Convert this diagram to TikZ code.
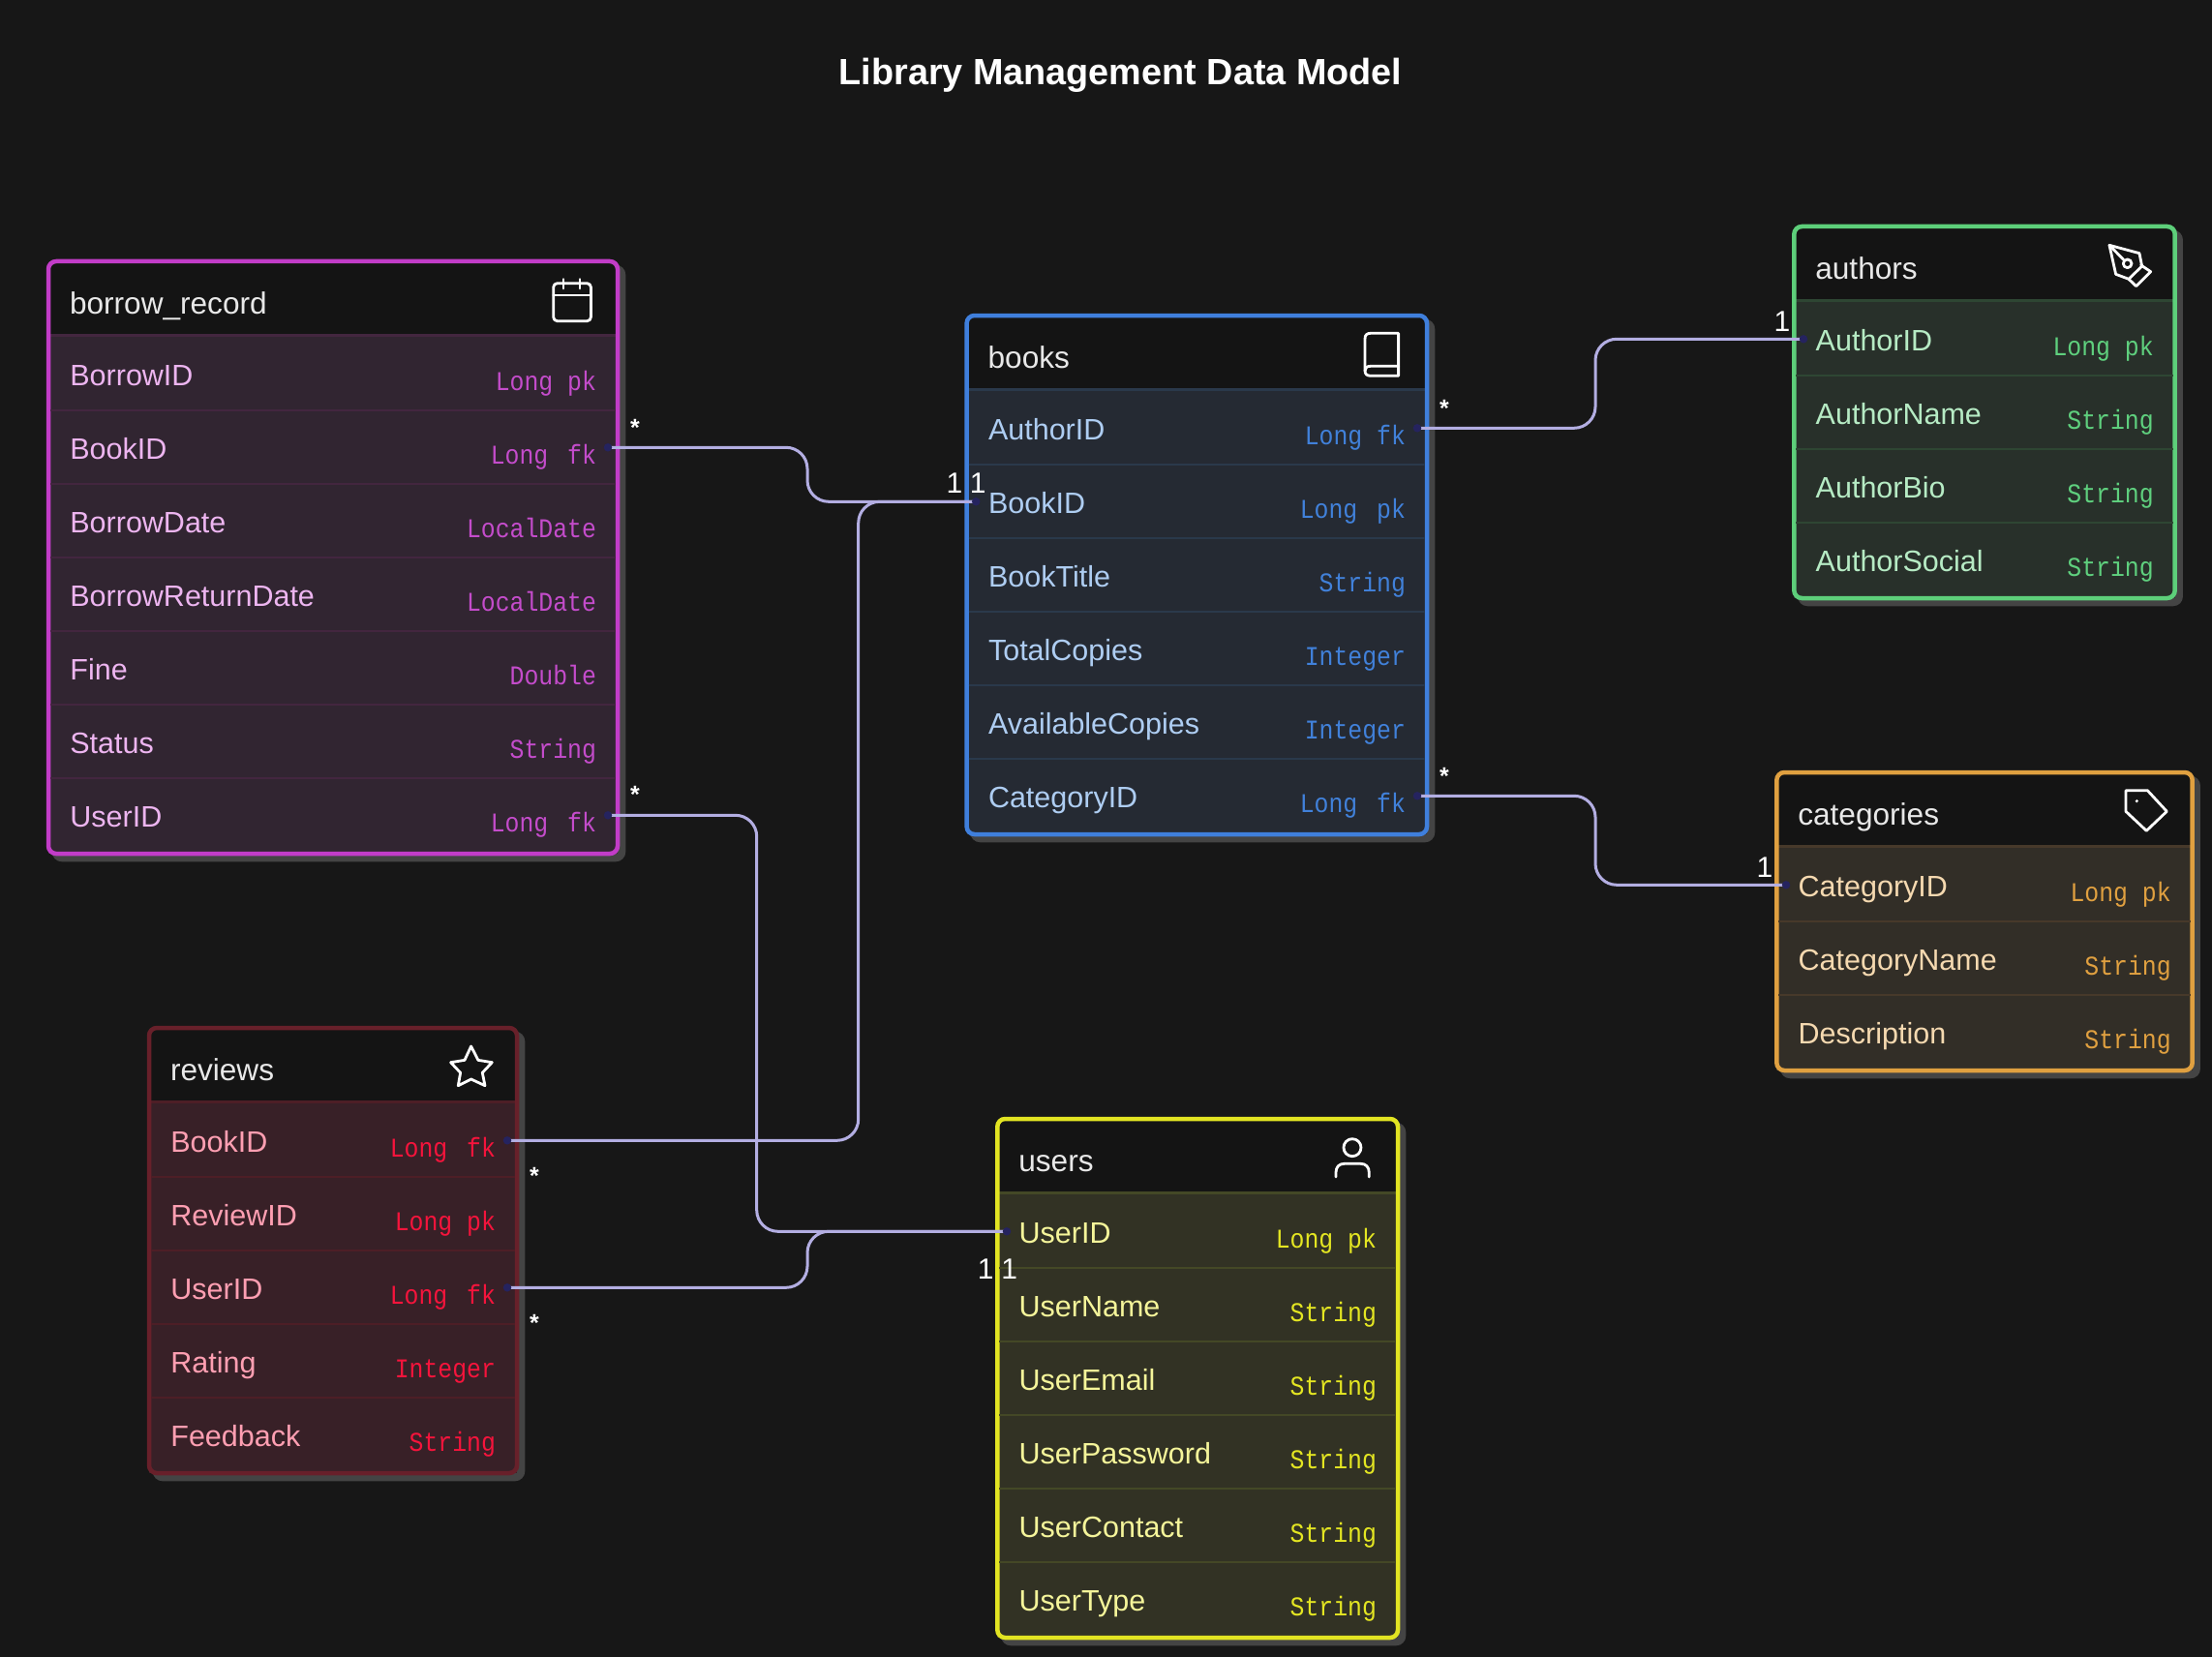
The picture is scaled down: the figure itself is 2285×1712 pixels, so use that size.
\documentclass[tikz,border=0pt]{standalone}
\usepackage{fontspec}
\setmainfont{Liberation Sans}
\newfontfamily\typefont[FakeStretch=0.886]{Liberation Mono}
\usetikzlibrary{calc}
\definecolor{pageBg}{HTML}{171717}
\definecolor{headBg}{HTML}{141414}
\definecolor{shadowC}{HTML}{444444}
\definecolor{connC}{HTML}{B3AEE2}
\definecolor{dotC}{HTML}{25235F}
\definecolor{titleC}{HTML}{E8E8E8}
\definecolor{bwS}{HTML}{C23CC8}\definecolor{bwF}{HTML}{312531}\definecolor{bwL}{HTML}{43263F}\definecolor{bwN}{HTML}{EDB5F0}\definecolor{bwT}{HTML}{C44CCB}
\definecolor{bkS}{HTML}{3F7FDC}\definecolor{bkF}{HTML}{252A33}\definecolor{bkL}{HTML}{2A394B}\definecolor{bkN}{HTML}{AECDF2}\definecolor{bkT}{HTML}{4181DA}
\definecolor{auS}{HTML}{5DCF7A}\definecolor{auF}{HTML}{28302A}\definecolor{auL}{HTML}{2E4633}\definecolor{auN}{HTML}{B6EBC4}\definecolor{auT}{HTML}{5FD07E}
\definecolor{caS}{HTML}{E0A040}\definecolor{caF}{HTML}{322E27}\definecolor{caL}{HTML}{47392A}\definecolor{caN}{HTML}{F5D9B0}\definecolor{caT}{HTML}{E0A040}
\definecolor{reS}{HTML}{68202A}\definecolor{reF}{HTML}{382027}\definecolor{reL}{HTML}{4D1E26}\definecolor{reN}{HTML}{FF9FB2}\definecolor{reT}{HTML}{F5143C}
\definecolor{usS}{HTML}{E2E422}\definecolor{usF}{HTML}{323224}\definecolor{usL}{HTML}{444826}\definecolor{usN}{HTML}{F5F59A}\definecolor{usT}{HTML}{E4E622}
\pgfdeclarelayer{mid}\pgfdeclarelayer{front}\pgfsetlayers{main,mid,front}
\newcommand\wg{\hspace*{5pt}}
\newcommand\erbox[8]{%
  % #1 name, #2 x0, #3 x1, #4 top, #5 colour prefix, #6 title, #7 rows, #8 list
  \pgfmathsetmacro\botY{#4+78+76*#7+2}
  \fill[shadowC,rounded corners=10pt] (#2-2.25+6,#4-2.25+6) rectangle (#3+2.25+6,\botY+2.25+6);
  \fill[headBg,rounded corners=8pt] (#2,#4) rectangle (#3,\botY);
  \fill[#5F] (#2,#4+77) rectangle (#3,\botY);
  \draw[#5L,line width=3pt] (#2,#4+76.5) -- (#3,#4+76.5);
  \pgfmathsetmacro\boxW{#3-#2}
  \pgfmathsetmacro\boxH{\botY-#4}
  \node[outlinebox,draw=#5S,minimum width=\boxW pt,minimum height=\boxH pt,anchor=north west] (#1) at (#2,#4) {};
  \node[headtext] (#1-title) at (#2+21.8,#4+54.3) {#6};
  \foreach \lab/\typ [count=\i] in {#8} {
    \pgfmathsetmacro\rowT{#4+78+76*(\i-1)}
    \ifnum\i>1 \draw[#5L,line width=2.5pt] (#2+2,\rowT) -- (#3-2,\rowT);\fi
    \node[nametext,text=#5N] (#1-n\i) at (#2+22.2,\rowT+50.3) {\lab};
    \node[typetext,text=#5T] (#1-t\i) at (#3-21.8,\rowT+55.7) {\typ};
  }
}
\tikzset{
  outlinebox/.style={rectangle,rounded corners=8pt,line width=4.5pt,inner sep=0pt,outer sep=0pt},
  headtext/.style={anchor=base west,inner sep=0pt,text=titleC,font=\fontsize{31.6}{36}\selectfont},
  nametext/.style={anchor=base west,inner sep=0pt,font=\fontsize{30.5}{36}\selectfont},
  typetext/.style={anchor=base east,inner sep=0pt,font=\typefont\fontsize{28}{30}\selectfont},
  conn/.style={connC,line width=3pt,rounded corners=22pt},
  portdot/.style={circle,fill=dotC,draw=none,minimum size=8.5pt,inner sep=0pt},
  mult/.style={text=white,inner sep=0pt,font=\fontsize{30}{36}\selectfont},
  manyc/.style={text=white,inner sep=0pt,font=\bfseries\fontsize{25}{28}\selectfont},
  icon/.style={white,line width=2.8pt,line join=round,line cap=round},
}
\begin{document}
\begin{tikzpicture}[x=1pt,y=-1pt]
\useasboundingbox (0,0) rectangle (2285,1712);
\fill[pageBg] (0,0) rectangle (2285,1712);

\node[anchor=base,inner sep=0pt,text=white,font=\bfseries\fontsize{37.8}{44}\selectfont] (title) at (1157.5,88) {Library Management Data Model};

\erbox{borrow}{50}{638}{270}{bw}{borrow\_record}{7}{BorrowID/Long pk,BookID/Long\wg{} fk,BorrowDate/LocalDate,BorrowReturnDate/LocalDate,Fine/Double,Status/String,UserID/Long\wg{} fk}
\erbox{books}{998.6}{1474}{326}{bk}{books}{6}{AuthorID/Long fk,BookID/Long\wg{} pk,BookTitle/String,TotalCopies/Integer,AvailableCopies/Integer,CategoryID/Long\wg{} fk}
\erbox{authors}{1853.3}{2246.7}{234}{au}{authors}{4}{AuthorID/Long pk,AuthorName/String,AuthorBio/String,AuthorSocial/String}
\erbox{categories}{1835.3}{2264.7}{798}{ca}{categories}{3}{CategoryID/Long pk,CategoryName/String,Description/String}
\erbox{reviews}{154}{534}{1062}{re}{reviews}{5}{BookID/Long\wg{} fk,ReviewID/Long pk,UserID/Long\wg{} fk,Rating/Integer,Feedback/String}
\erbox{users}{1030.3}{1444}{1156}{us}{users}{6}{UserID/Long pk,UserName/String,UserEmail/String,UserPassword/String,UserContact/String,UserType/String}

% icons
\draw[icon,rounded corners=4pt] (571.7,292.7) rectangle (610.4,331.7);
\draw[icon] (571.7,305) -- (610.4,305) (582,288.5) -- (582,298) (599,288.5) -- (599,298);
\draw[icon] (1444.6,344.3) -- (1416,344.3) .. controls (1412,344.3) and (1410,346) .. (1410,350) -- (1410,383) .. controls (1410,386.5) and (1412,388.3) .. (1416,388.3) -- (1444.6,388.3) -- cycle;
\draw[icon] (1444.6,378.3) -- (1416,378.3) .. controls (1412,378.3) and (1410,380) .. (1410,383);
\begin{scope}[shift={(1800,210)},x=0.3333pt,y=-0.3333pt]
  \draw[icon] (1137,130) -- (1230,155) -- (1238,195) -- (1197,235) -- (1157,220) -- cycle;
  \draw[icon] (1235,192) -- (1265,212) -- (1220,257) -- (1197,235);
  \draw[icon] (1137,130) -- (1181,175);
  \draw[icon] (1193,187) circle (13);
\end{scope}
\begin{scope}[shift={(1810,780)},x=0.3333pt,y=-0.3333pt]
  \draw[icon] (1158,110) -- (1225,110) -- (1285,175) -- (1222,235) -- (1158,175) -- cycle;
  \fill[white] (1192,143) circle (5);
\end{scope}
\begin{scope}[shift={(140,1050)},x=0.3333pt,y=-0.3333pt]
  \draw[icon] (1040,93) -- (1062,136) -- (1105,143) -- (1075,175) -- (1083,215) -- (1040,195) -- (1000,215) -- (1007,175) -- (977,143) -- (1020,136) -- cycle;
\end{scope}
\begin{scope}[shift={(980,1140)},x=0.3333pt,y=-0.3333pt]
  \draw[icon] (1251,137) circle (27);
  \draw[icon] (1200,228) -- (1200,215) .. controls (1200,197) and (1210,187) .. (1226,187) -- (1277,187) .. controls (1293,187) and (1303,197) .. (1303,215) -- (1303,228);
\end{scope}

% ports
\begin{pgfonlayer}{front}
\node[portdot] (pBorrowBook) at (628,462.3) {};
\node[portdot] (pBorrowUser) at (628,842.3) {};
\node[portdot] (pBooksBook) at (1008.2,518.3) {};
\node[portdot] (pBooksAuthor) at (1464,442.3) {};
\node[portdot] (pBooksCat) at (1464,822.3) {};
\node[portdot] (pAuthor) at (1863,350.3) {};
\node[portdot] (pCat) at (1845,914.3) {};
\node[portdot] (pRevBook) at (524,1178.3) {};
\node[portdot] (pRevUser) at (524,1330.3) {};
\node[portdot] (pUser) at (1040,1272.3) {};
\node[mult] (m1) at (986,499.3) {1};
\node[mult] (m2) at (1010.3,499.3) {1};
\node[mult] (m3) at (1841,331.7) {1};
\node[mult] (m4) at (1823,895.7) {1};
\node[mult] (m5) at (1018.3,1311) {1};
\node[mult] (m6) at (1042.7,1311) {1};
\node[manyc] (s1) at (656,442) {*};
\node[manyc] (s2) at (656,821.3) {*};
\node[manyc] (s3) at (1492,422) {*};
\node[manyc] (s4) at (1492,802.3) {*};
\node[manyc] (s5) at (552,1215.3) {*};
\node[manyc] (s6) at (552,1367.3) {*};
\end{pgfonlayer}

% connectors
\coordinate (xA) at (834,0);
\coordinate (xB) at (886.7,0);
\coordinate (xC) at (781.7,0);
\coordinate (xE) at (1648,0);
\begin{pgfonlayer}{mid}
\draw[conn] (pBorrowBook.center) -- (xA |- pBorrowBook.center) -- (xA |- pBooksBook.center) -- (pBooksBook.center);
\draw[conn] (pRevBook.center) -- (xB |- pRevBook.center) -- (xB |- pBooksBook.center) -- (pBooksBook.center);
\draw[conn] (pBorrowUser.center) -- (xC |- pBorrowUser.center) -- (xC |- pUser.center) -- (pUser.center);
\draw[conn] (pRevUser.center) -- (xA |- pRevUser.center) -- (xA |- pUser.center) -- (pUser.center);
\draw[conn] (pBooksAuthor.center) -- (xE |- pBooksAuthor.center) -- (xE |- pAuthor.center) -- (pAuthor.center);
\draw[conn] (pBooksCat.center) -- (xE |- pBooksCat.center) -- (xE |- pCat.center) -- (pCat.center);
\end{pgfonlayer}
\end{tikzpicture}
\end{document}
